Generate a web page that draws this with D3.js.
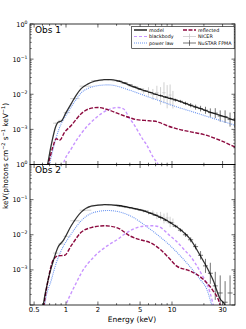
<!DOCTYPE html>
<html>
<head>
<meta charset="utf-8">
<script src="https://cdn.jsdelivr.net/npm/d3@7"></script>
<style>
body{margin:0;background:#fff}
svg{display:block;font-family:"DejaVu Sans",sans-serif}
</style>
</head>
<body>
<svg id="chart" width="246" height="329"></svg>
<script>
// ---- Obs 1 model components (E in keV, E*F_E) ----
const obs1ModelE = [0.62,0.67,0.73,0.8,0.84,0.9,1.0,1.12,1.25,1.39,1.6,1.87,2.3,2.6,3.1,4.0,5.35,7.0,9.0,11,15,20,22.8,30,39.5];
const obs1ModelF = [3e-5,1e-4,3.9e-4,1.2e-3,1.6e-3,1.7e-3,3.0e-3,5.4e-3,9.5e-3,1.45e-2,1.95e-2,2.35e-2,2.6e-2,2.6e-2,2.4e-2,1.8e-2,1.3e-2,1.0e-2,8.0e-3,6.8e-3,4.8e-3,3.6e-3,3.1e-3,2.4e-3,1.8e-3];
const obs1PowE = [0.66,0.70,0.75,0.81,0.9,1.0,1.12,1.25,1.39,1.6,1.87,2.5,4.0,5.35,8,11,16,22.8,30,39.5];
const obs1PowF = [3e-5,1e-4,2.5e-4,6e-4,1.45e-3,2.5e-3,4.4e-3,7.2e-3,1.1e-2,1.45e-2,1.7e-2,1.85e-2,1.3e-2,9.5e-3,6.2e-3,4.4e-3,3.1e-3,2.2e-3,1.7e-3,1.3e-3];
const obs1ReflE = [0.62,0.68,0.75,0.81,0.87,0.97,1.12,1.39,1.67,2.0,2.5,3.2,4.0,4.6,5.5,6.2,7.0,7.7,8.9,11,15,19.7,28.4,39.5];
const obs1ReflF = [3e-5,1e-4,3.1e-4,5.4e-4,4.9e-4,8.3e-4,1.29e-3,2.8e-3,3.9e-3,4.2e-3,3.6e-3,2.7e-3,2.15e-3,1.9e-3,1.8e-3,1.75e-3,1.7e-3,1.55e-3,1.29e-3,1.05e-3,8.5e-4,7.2e-4,4.9e-4,3.1e-4];
const obs1BbE = [0.9,0.94,1.12,1.39,1.87,2.49,3.1,3.5,4.0,4.3,5.35,5.77,6.65,7.4,7.8];
const obs1BbF = [6e-5,1e-4,2.8e-4,7.6e-4,2.0e-3,3.6e-3,4.2e-3,3.8e-3,2.0e-3,1.5e-3,5e-4,3.6e-4,1.6e-4,1e-4,7e-5];

// ---- Obs 1 data (E, flux, error in dex) ----
const obs1NicerE = [0.8,0.9,1.0,1.2,1.5,2.0,2.5,3.0,3.6,4.2,4.8,5.4,6.0,6.6,7.2,7.8,8.4,9.0,9.6,10.2];
const obs1NicerF = [1.5e-3,1.8e-3,3.0e-3,7.5e-3,1.7e-2,2.45e-2,2.6e-2,2.4e-2,2.05e-2,1.7e-2,1.45e-2,1.25e-2,1.2e-2,1.0e-2,1.1e-2,9.0e-3,1.1e-2,8.5e-3,9.5e-3,7.0e-3];
const obs1NicerErr = [0.02,0.02,0.02,0.02,0.02,0.02,0.02,0.03,0.03,0.04,0.05,0.08,0.12,0.15,0.2,0.25,0.3,0.33,0.3,0.25];
const obs1NustarE = [3.2,3.6,4.0,4.5,5.0,5.6,6.3,7.0,7.8,8.7,9.7,10.8,12,13.4,15,16.7,18.6,20.7,23,25.6,28.5,31.7,35.3,39];
const obs1NustarF = [2.35e-2,2.1e-2,1.85e-2,1.6e-2,1.4e-2,1.25e-2,1.12e-2,1.0e-2,9.2e-3,8.3e-3,7.6e-3,6.8e-3,6.3e-3,5.5e-3,4.9e-3,4.3e-3,3.9e-3,3.5e-3,3.0e-3,2.9e-3,2.4e-3,2.3e-3,1.9e-3,1.85e-3];
const obs1NustarErr = [0.02,0.02,0.02,0.02,0.02,0.02,0.02,0.02,0.03,0.03,0.03,0.04,0.04,0.05,0.06,0.07,0.08,0.1,0.12,0.14,0.16,0.18,0.2,0.22];

// ---- Obs 2 model components ----
const obs2ModelE = [0.58,0.61,0.68,0.75,0.84,0.94,1.12,1.39,1.73,2.32,3.09,4.0,5.35,7.0,9.6,12,14.8,18.4,22.8,24.5,28.4,31.6,33];
const obs2ModelF = [3e-5,1e-4,5.4e-4,1.6e-3,4.4e-3,6.8e-3,1.8e-2,4.4e-2,6.5e-2,7.2e-2,6.8e-2,5.9e-2,4.9e-2,3.6e-2,2.24e-2,1.4e-2,7.6e-3,2.6e-3,8e-4,5e-4,1.5e-4,1e-4,6e-5];
const obs2PowE = [0.6,0.63,0.73,0.81,0.90,1.12,1.39,1.87,2.49,4.0,6.2,9.6,13.7,18.4,21.3,23.7,25];
const obs2PowF = [3e-5,1e-4,5.4e-4,1.6e-3,3.5e-3,1.05e-2,2.5e-2,4.4e-2,4.9e-2,3.5e-2,1.45e-2,4.9e-3,1.6e-3,5.4e-4,2.8e-4,1e-4,6e-5];
const obs2ReflE = [0.59,0.62,0.68,0.75,0.84,0.97,1.12,1.39,1.73,2.32,3.09,4.0,5.0,6.2,7.7,9.6,11,14.8,19.7,24.5,27.3,28.4,29.5];
const obs2ReflF = [3e-5,1e-4,5.4e-4,1.8e-3,2.5e-3,2.6e-3,4.9e-3,1.17e-2,1.6e-2,1.8e-2,1.55e-2,9.3e-3,7.2e-3,6.0e-3,3.9e-3,2.0e-3,1.3e-3,9.3e-4,5.4e-4,2.5e-4,1.45e-4,1e-4,7e-5];
const obs2BbE = [0.95,1.0,1.12,1.26,1.39,1.87,2.49,3.09,3.5,4.3,5.35,6.6,7.5,9.6,11,13.7,14.8,18.4,22.8,24.5,25.5];
const obs2BbF = [6e-5,1e-4,2.2e-4,4.5e-4,8e-4,2.5e-3,5e-3,7.5e-3,1.0e-2,1.45e-2,1.75e-2,1.8e-2,1.7e-2,9.3e-3,6.5e-3,3.2e-3,2.5e-3,9e-4,2.3e-4,1e-4,6e-5];

// ---- Obs 2 data ----
const obs2NicerE = [0.8,0.9,1.0,1.2,1.5,2.0,2.5,3.0,3.6,4.2,4.8,5.4,6.0,6.6,7.2,7.8,8.4,9.0,9.6,10.2];
const obs2NicerF = [3.0e-3,5.5e-3,9.0e-3,2.5e-2,5.0e-2,6.9e-2,7.2e-2,6.9e-2,6.3e-2,5.8e-2,5.3e-2,4.8e-2,4.3e-2,4.1e-2,3.5e-2,3.4e-2,2.9e-2,3.0e-2,2.3e-2,2.2e-2];
const obs2NicerErr = [0.02,0.02,0.02,0.02,0.02,0.02,0.02,0.02,0.03,0.03,0.04,0.05,0.06,0.08,0.1,0.12,0.14,0.15,0.15,0.12];
const obs2NustarE = [3.2,3.6,4.0,4.5,5.0,5.6,6.3,7.0,7.8,8.7,9.7,10.8,12,13.4,15,16.7,18.6,20.7,23,25.6,28.5,31.7,35.3];
const obs2NustarF = [6.7e-2,6.3e-2,5.9e-2,5.5e-2,5.1e-2,4.7e-2,4.1e-2,3.6e-2,3.1e-2,2.6e-2,2.2e-2,1.75e-2,1.35e-2,1.0e-2,7.2e-3,4.6e-3,2.6e-3,1.3e-3,8e-4,3.5e-4,2.2e-4,1.2e-4,2.2e-4];
const obs2NustarErr = [0.02,0.02,0.02,0.02,0.02,0.02,0.02,0.02,0.03,0.03,0.03,0.04,0.05,0.06,0.07,0.08,0.12,0.2,0.3,0.4,0.5,0.6,0.5];

const xTickVals = [0.5,1,2,5,10,30];
const yTickVals = [1,0.1,0.01,0.001];
const legendNames = ['model','blackbody','power law','reflected','NICER','NuSTAR FPMA'];

const colModel = '#000', colBb = '#c894ff', colPow = '#6b95f0', colRefl = '#8c0a3f';
const colNicer = '#c4c4c4', colNustar = '#3a3a3a';

let svg = d3.select('#chart');
let x = d3.scaleLog().domain([0.4574, 39.3]).range([30, 235]);
let zip = (a, b) => a.map((v, i) => [v, b[i]]);

let panels = [
  {name:'Obs 1', top:24, bot:164.5,
   nicer:[obs1NicerE,obs1NicerF,obs1NicerErr], nustar:[obs1NustarE,obs1NustarF,obs1NustarErr],
   bb:zip(obs1BbE,obs1BbF), pow:zip(obs1PowE,obs1PowF), refl:zip(obs1ReflE,obs1ReflF), model:zip(obs1ModelE,obs1ModelF)},
  {name:'Obs 2', top:164.5, bot:305,
   nicer:[obs2NicerE,obs2NicerF,obs2NicerErr], nustar:[obs2NustarE,obs2NustarF,obs2NustarErr],
   bb:zip(obs2BbE,obs2BbF), pow:zip(obs2PowE,obs2PowF), refl:zip(obs2ReflE,obs2ReflF), model:zip(obs2ModelE,obs2ModelF)}
];

let minorX = [];
[0.1,1,10].forEach(d => { for(let k=1;k<10;k++){ let v=d*k; if(v>0.4574 && v<39.3) minorX.push(v); } });

panels.forEach((p, pi) => {
  let y = d3.scaleLog().domain([1e-4, 1]).range([p.bot, p.top]);
  let g = svg.append('g');
  let cid = 'clip' + pi;
  svg.append('clipPath').attr('id', cid).append('rect')
    .attr('x', 30).attr('y', p.top).attr('width', 205).attr('height', p.bot - p.top);
  let plot = g.append('g').attr('clip-path', `url(#${cid})`);

  // error bars; horizontal bars span half way to the neighbouring bins
  let drawData = (arr, col, w) => {
    let [E, F, err] = arr;
    E.forEach((e, i) => {
      let lo = F[i] / Math.pow(10, err[i]), hi = F[i] * Math.pow(10, err[i]);
      let eL = i > 0 ? Math.sqrt(E[i-1] * e) : e / Math.sqrt(E[i+1] / e);
      let eR = i < E.length - 1 ? Math.sqrt(E[i+1] * e) : e * Math.sqrt(e / E[i-1]);
      plot.append('line').attr('x1', x(e)).attr('x2', x(e)).attr('y1', y(lo)).attr('y2', y(hi))
        .attr('stroke', col).attr('stroke-width', w);
      plot.append('line').attr('x1', x(eL)).attr('x2', x(eR)).attr('y1', y(F[i])).attr('y2', y(F[i]))
        .attr('stroke', col).attr('stroke-width', w);
    });
  };
  drawData(p.nicer, colNicer, 0.8);
  drawData(p.nustar, colNustar, 0.7);

  let line = d3.line().x(d => x(d[0])).y(d => y(d[1])).curve(d3.curveMonotoneX);
  plot.append('path').attr('d', line(p.pow)).attr('fill', 'none').attr('stroke', colPow)
    .attr('stroke-width', 1.1).attr('stroke-dasharray', '1,1');
  plot.append('path').attr('d', line(p.bb)).attr('fill', 'none').attr('stroke', colBb)
    .attr('stroke-width', 1.4).attr('stroke-dasharray', '3,2');
  plot.append('path').attr('d', line(p.refl)).attr('fill', 'none').attr('stroke', colRefl)
    .attr('stroke-width', 1.4).attr('stroke-dasharray', '4,1.5');
  plot.append('path').attr('d', line(p.model)).attr('fill', 'none').attr('stroke', colModel)
    .attr('stroke-width', 1.3).attr('stroke-opacity', 0.8);

  // frame
  g.append('rect').attr('x', 30).attr('y', p.top).attr('width', 205).attr('height', p.bot - p.top)
    .attr('fill', 'none').attr('stroke', '#000').attr('stroke-width', 0.8);

  // y ticks (inward, both sides)
  yTickVals.concat([1e-4]).forEach(v => {
    g.append('line').attr('x1', 30).attr('x2', 33.5).attr('y1', y(v)).attr('y2', y(v)).attr('stroke', '#000').attr('stroke-width', 0.6);
    g.append('line').attr('x1', 231.5).attr('x2', 235).attr('y1', y(v)).attr('y2', y(v)).attr('stroke', '#000').attr('stroke-width', 0.6);
  });
  [1e-4,1e-3,1e-2,1e-1].forEach(d => {
    for(let k=2;k<10;k++){
      let v = d*k;
      g.append('line').attr('x1', 30).attr('x2', 31.8).attr('y1', y(v)).attr('y2', y(v)).attr('stroke', '#000').attr('stroke-width', 0.5);
      g.append('line').attr('x1', 233.2).attr('x2', 235).attr('y1', y(v)).attr('y2', y(v)).attr('stroke', '#000').attr('stroke-width', 0.5);
    }
  });
  yTickVals.forEach(v => {
    let ex = Math.round(Math.log10(v));
    let t = g.append('text').attr('x', 27.5).attr('y', y(v) + 2.5).attr('text-anchor', 'end')
      .attr('font-size', 6.5).attr('fill', '#000');
    t.append('tspan').text('10');
    t.append('tspan').attr('font-size', 4.6).attr('dy', -3).text(ex === 0 ? '0' : '\u2212' + (-ex));
  });

  // x ticks (inward, top and bottom)
  minorX.forEach(v => {
    let major = xTickVals.includes(v);
    let len = major ? 3.5 : 1.8;
    g.append('line').attr('x1', x(v)).attr('x2', x(v)).attr('y1', p.bot).attr('y2', p.bot - len).attr('stroke', '#000').attr('stroke-width', 0.6);
    g.append('line').attr('x1', x(v)).attr('x2', x(v)).attr('y1', p.top).attr('y2', p.top + len).attr('stroke', '#000').attr('stroke-width', 0.6);
  });

  g.append('text').attr('x', 35).attr('y', p.top + 8.5).attr('font-size', 9).text(p.name);
});

// x tick labels and axis title
svg.selectAll('.xl').data(xTickVals).enter().append('text')
  .attr('x', d => x(d)).attr('y', 312).attr('text-anchor', 'middle').attr('font-size', 6.8).text(d => d);
svg.append('text').attr('x', 132).attr('y', 322).attr('text-anchor', 'middle').attr('font-size', 7.5).text('Energy (keV)');

// y axis title
let yl = svg.append('text').attr('transform', 'translate(8,156) rotate(-90)').attr('text-anchor', 'middle').attr('font-size', 7.3);
yl.append('tspan').text('keV(photons cm');
yl.append('tspan').attr('font-size', 5).attr('dy', -3).text('\u22122');
yl.append('tspan').attr('dy', 3).text(' s');
yl.append('tspan').attr('font-size', 5).attr('dy', -3).text('\u22121');
yl.append('tspan').attr('dy', 3).text(' keV');
yl.append('tspan').attr('font-size', 5).attr('dy', -3).text('\u22121');
yl.append('tspan').attr('dy', 3).text(')');

// legend (top panel)
let lg = svg.append('g');
lg.append('rect').attr('x', 131.7).attr('y', 26.5).attr('width', 102.5).attr('height', 22)
  .attr('fill', '#fff').attr('stroke', '#000').attr('stroke-width', 0.6);
let lstyle = [
  {c:colModel, w:1.3, dash:null},
  {c:colBb, w:1.2, dash:'3,2'},
  {c:colPow, w:1.1, dash:'1,1'},
  {c:colRefl, w:1.3, dash:'4,1.5'},
  {c:colNicer, w:0.7, dash:null, err:true},
  {c:colNustar, w:0.7, dash:null, err:true}
];
legendNames.forEach((n, i) => {
  let col = Math.floor(i / 3), row = i % 3;
  let lx = col === 0 ? 134 : 183, ly = 30 + row * 6.5;
  let s = lstyle[i];
  let ln = lg.append('line').attr('x1', lx).attr('x2', lx + 13).attr('y1', ly).attr('y2', ly)
    .attr('stroke', s.c).attr('stroke-width', s.w);
  if(s.dash) ln.attr('stroke-dasharray', s.dash);
  if(s.err) lg.append('line').attr('x1', lx + 6.5).attr('x2', lx + 6.5).attr('y1', ly - 2.8).attr('y2', ly + 2.8)
    .attr('stroke', s.c).attr('stroke-width', s.w);
  lg.append('text').attr('x', lx + 15).attr('y', ly + 1.7).attr('font-size', 4.8).text(n);
});
</script>
</body>
</html>
